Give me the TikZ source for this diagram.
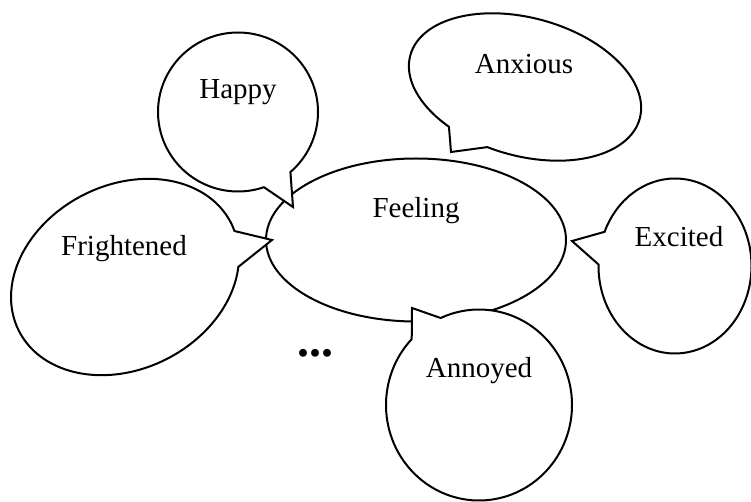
\documentclass[tikz,border=0pt]{standalone}
\usepackage{fontspec}
\setmainfont{Liberation Serif}
\usetikzlibrary{shapes.geometric, shapes.callouts}
\tikzstyle{bubble} = [ellipse callout, draw, fill=white, line width=2pt,
  inner sep=0pt, outer sep=0pt, callout pointer arc=22]
\tikzstyle{word} = [anchor=base, inner sep=0pt, font=\fontsize{29}{34}\selectfont]

\begin{document}
\begin{tikzpicture}[x=1pt, y=-1pt]
    \useasboundingbox (0,0) rectangle (751,502);
    \node[ellipse, draw, line width=2pt, inner sep=0pt, minimum width=300pt,
      minimum height=163pt] (feel) at (416,240) {};
    \node[bubble, minimum width=160pt, minimum height=159pt,
      callout absolute pointer={(293,207)}] (happy) at (238,112) {};
    \node[bubble, minimum width=238pt, minimum height=184pt, rotate=27,
      callout absolute pointer={(272,240)}] (fright) at (125,277) {};
    \node[bubble, minimum width=238pt, minimum height=138pt, rotate=-15.5,
      callout absolute pointer={(451,152)}] (anx) at (525,87) {};
    \node[bubble, minimum width=153pt, minimum height=175pt,
      callout absolute pointer={(572,241)}] (excit) at (675,266) {};
    \node[bubble, minimum width=186pt, minimum height=191pt,
      callout absolute pointer={(412,308)}] (annoy) at (479,405) {};
    \node[word] (feel-t) at (416,218) {Feeling};
    \node[word] (happy-t) at (238,99) {Happy};
    \node[word] (fright-t) at (124,255) {Frightened};
    \node[word] (anx-t) at (524,74) {Anxious};
    \node[word] (excit-t) at (679,247) {Excited};
    \node[word] (annoy-t) at (479,377) {Annoyed};
    \node[word, font=\fontsize{48}{50}\selectfont\bfseries] (more) at (315,356) {...};
\end{tikzpicture}
\end{document}
